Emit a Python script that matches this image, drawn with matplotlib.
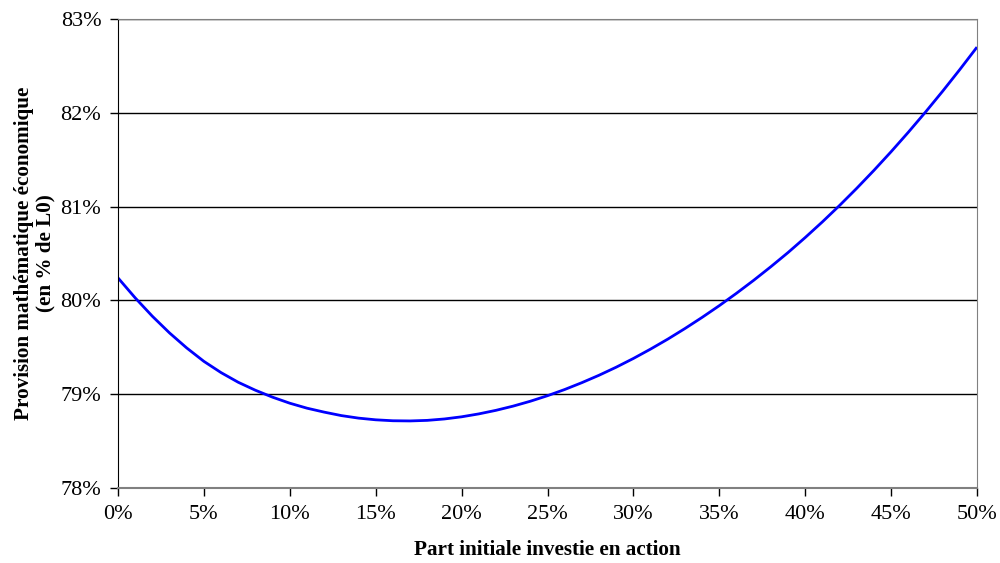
import numpy as np
import matplotlib
matplotlib.use("Agg")
import matplotlib.pyplot as plt
from matplotlib.ticker import FuncFormatter

# Part initiale investie en action (%) and provision (% de L0)
part_action = list(range(0, 51))
provision = [80.240, 80.027, 79.831, 79.653, 79.493, 79.350, 79.230, 79.127, 79.042, 78.968,
             78.904, 78.851, 78.809, 78.772, 78.745, 78.727, 78.717, 78.715, 78.721, 78.736,
             78.759, 78.790, 78.828, 78.873, 78.925, 78.984, 79.050, 79.123, 79.202, 79.288,
             79.381, 79.481, 79.587, 79.700, 79.819, 79.944, 80.076, 80.214, 80.359, 80.510,
             80.670, 80.837, 81.012, 81.195, 81.386, 81.585, 81.792, 82.007, 82.230, 82.461,
             82.700]
x_ticks = list(range(0, 51, 5))
y_ticks = [78, 79, 80, 81, 82, 83]

plt.rcParams["font.family"] = ["Liberation Serif", "DejaVu Serif"]

fig = plt.figure(figsize=(10, 5.63), dpi=100)
ax = fig.add_axes([0.118, 0.1332, 0.859, 0.8331])

ax.plot(part_action, provision, color="#0000ff", lw=2, solid_capstyle="butt")

ax.set_xlim(0, 50)
ax.set_ylim(78, 83)
ax.set_xticks(x_ticks)
ax.set_yticks(y_ticks)
ax.xaxis.set_major_formatter(FuncFormatter(lambda v, p: f"{v:.0f}%"))
ax.yaxis.set_major_formatter(FuncFormatter(lambda v, p: f"{v:.0f}%"))
ax.tick_params(axis="both", direction="out", length=6, width=1, color="black",
               labelsize=16, pad=6)

ax.grid(axis="y", color="black", lw=1)
ax.set_axisbelow(True)

ax.spines["left"].set_color("black")
for side in ["right", "top", "bottom"]:
    ax.spines[side].set_color("#808080")
ax.spines["bottom"].set_linewidth(1.5)

ax.set_xlabel("Part initiale investie en action", fontsize=15.2, fontweight="bold", labelpad=12)
ax.set_ylabel("Provision mathématique économique\n(en % de L0)", fontsize=15.2,
              fontweight="bold", labelpad=4, linespacing=1.05)

fig.savefig("out.png", dpi=100)
